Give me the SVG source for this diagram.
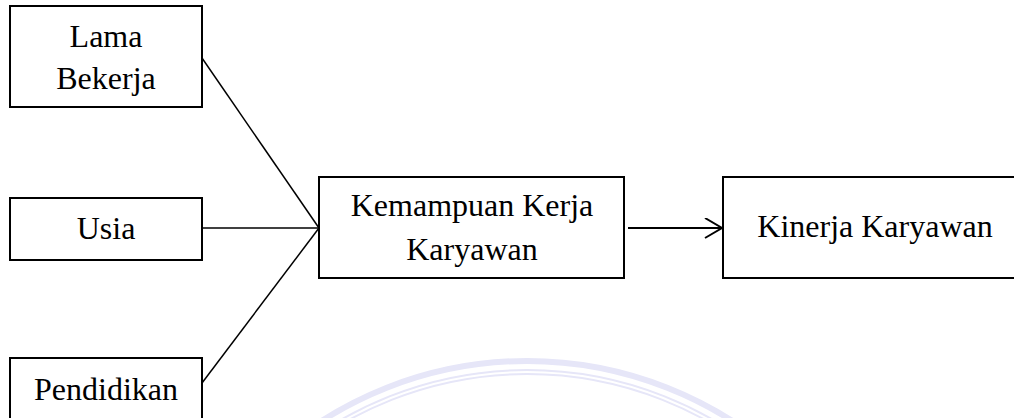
<svg xmlns="http://www.w3.org/2000/svg" width="1014" height="418" viewBox="0 0 1014 418">
<style>
.box{fill:#fff;stroke:#000;stroke-width:2}
.lbl{font-family:"Liberation Serif","Times New Roman",serif;font-size:32px;fill:#000;text-anchor:middle}
.con{stroke:#000;stroke-width:1.5;fill:none}
.wm{fill:none;stroke:#e6e6f8}
</style>
<defs>
<marker id="arr" markerWidth="20" markerHeight="24" refX="18" refY="10" orient="auto" markerUnits="userSpaceOnUse">
<path d="M1,0 L18,10 L1,20" fill="none" stroke="#000" stroke-width="2"/>
</marker>
</defs>
<rect width="1014" height="418" fill="#fff"/>
<g id="watermark">
<circle class="wm" cx="527" cy="742" r="381" stroke-width="6"/>
<circle class="wm" cx="527" cy="742" r="372" stroke-width="2"/>
<circle class="wm" cx="527" cy="742" r="368" stroke-width="2"/>
</g>
<g id="connectors">
<line class="con" x1="202" y1="58" x2="319" y2="228"/>
<line class="con" x1="202" y1="228" x2="319" y2="228"/>
<line class="con" x1="202" y1="383" x2="319" y2="228"/>
<line x1="628" y1="228" x2="722" y2="228" stroke="#000" stroke-width="2" marker-end="url(#arr)"/>
</g>
<g id="lama">
<rect class="box" x="10" y="6" width="192" height="101"/>
<text class="lbl" x="106" y="47">Lama</text>
<text class="lbl" x="106" y="89">Bekerja</text>
</g>
<g id="usia">
<rect class="box" x="10" y="198" width="192" height="62"/>
<text class="lbl" x="106" y="239">Usia</text>
</g>
<g id="pendidikan">
<rect class="box" x="10" y="358" width="192" height="80"/>
<text class="lbl" x="106" y="400">Pendidikan</text>
</g>
<g id="kemampuan">
<rect class="box" x="319" y="177" width="305" height="101"/>
<text class="lbl" x="472" y="216">Kemampuan Kerja</text>
<text class="lbl" x="472" y="260">Karyawan</text>
</g>
<g id="kinerja">
<rect class="box" x="723" y="177" width="300" height="101"/>
<text class="lbl" x="875" y="237">Kinerja Karyawan</text>
</g>
</svg>
